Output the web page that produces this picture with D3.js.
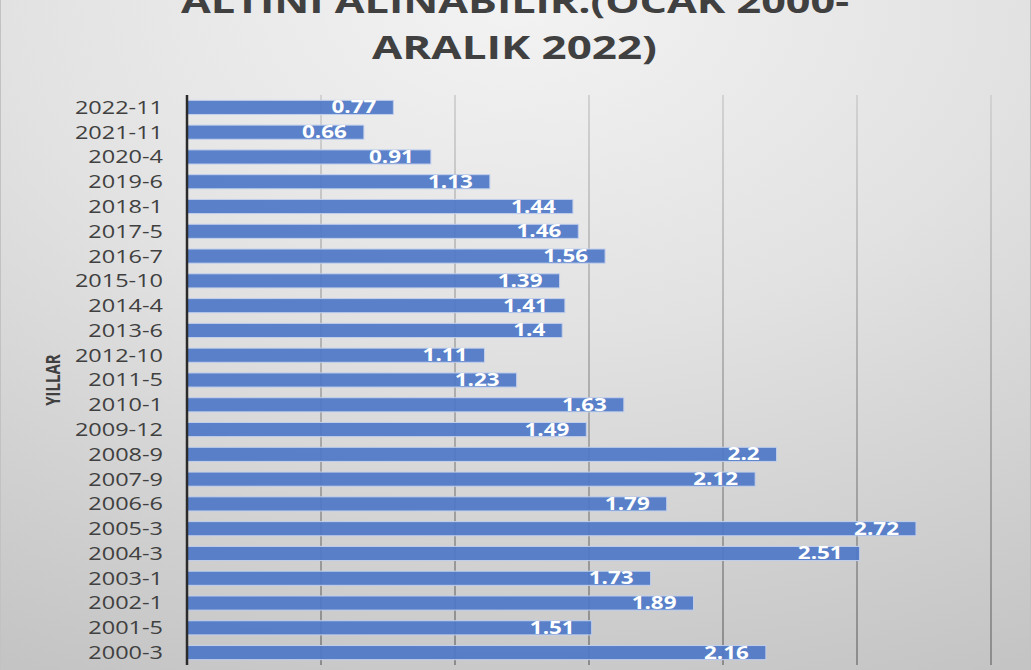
<!DOCTYPE html>
<html>
<head>
<meta charset="utf-8">
<script src="https://cdn.jsdelivr.net/npm/d3@7"></script>
<style>
	body { margin: 0; background: #fff; }
	svg { display: block; }
</style>
</head>
<body>
<div id="chart"></div>
<script>
var categories = ["2022-11", "2021-11", "2020-4", "2019-6", "2018-1", "2017-5", "2016-7", "2015-10",
	"2014-4", "2013-6", "2012-10", "2011-5", "2010-1", "2009-12", "2008-9", "2007-9", "2006-6",
	"2005-3", "2004-3", "2003-1", "2002-1", "2001-5", "2000-3"];

var values = [0.77, 0.66, 0.91, 1.13, 1.44, 1.46, 1.56, 1.39, 1.41, 1.4, 1.11, 1.23, 1.63, 1.49,
	2.2, 2.12, 1.79, 2.72, 2.51, 1.73, 1.89, 1.51, 2.16];

var xTicks = [0, 0.5, 1, 1.5, 2, 2.5, 3];

var titleLines = ["ALTINI ALINABİLİR.(OCAK 2000-", "ARALIK 2022)"];
var yTitle = "YILLAR";

var W = 1031,
	H = 670,
	stretch = 1.32; // the picture is wider than it is tall, text looks pulled sideways

var svg = d3.select("#chart").append("svg")
	.attr("width", W)
	.attr("height", H);

var defs = svg.append("defs");

var bg = defs.append("radialGradient")
	.attr("id", "bg")
	.attr("cx", "50%").attr("cy", "0%")
	.attr("r", "110%");
bg.append("stop").attr("offset", "0%").attr("stop-color", "#f3f3f3");
bg.append("stop").attr("offset", "45%").attr("stop-color", "#e2e2e2");
bg.append("stop").attr("offset", "100%").attr("stop-color", "#c4c4c4");

var gridGrad = defs.append("linearGradient")
	.attr("id", "gridGrad")
	.attr("gradientUnits", "userSpaceOnUse")
	.attr("x1", 0).attr("y1", 95).attr("x2", 0).attr("y2", 665);
gridGrad.append("stop").attr("offset", "0%").attr("stop-color", "#d2d2d2");
gridGrad.append("stop").attr("offset", "100%").attr("stop-color", "#8c8c8c");

svg.append("rect")
	.attr("x", 0.5).attr("y", -2)
	.attr("width", W - 1).attr("height", H + 4)
	.attr("fill", "url(#bg)")
	.attr("stroke", "#c2c2c2");

/* scales */

var x = d3.scaleLinear()
	.domain([0, 3])
	.range([187, 991]);

var y = d3.scaleBand()
	.domain(categories)
	.range([95, 665])
	.paddingInner(0.43)
	.paddingOuter(0.215);

/* grid */

svg.append("g")
	.selectAll("line")
	.data(xTicks.slice(1))
	.enter().append("line")
	.attr("x1", function(d) { return x(d); })
	.attr("x2", function(d) { return x(d); })
	.attr("y1", 95)
	.attr("y2", 665)
	.attr("stroke", "url(#gridGrad)")
	.attr("stroke-width", 2);

/* bars */

svg.append("g")
	.selectAll("rect")
	.data(values)
	.enter().append("rect")
	.attr("x", x(0))
	.attr("y", function(d, i) { return y(categories[i]); })
	.attr("width", function(d) { return x(d) - x(0); })
	.attr("height", y.bandwidth())
	.attr("fill", "#4f78c6")
	.attr("fill-opacity", 0.93)
	.attr("stroke", "#c3d0ec")
	.attr("stroke-width", 1);

/* value labels */

svg.append("g")
	.selectAll("text")
	.data(values)
	.enter().append("text")
	.attr("transform", function(d, i) {
		return "translate(" + (x(d) - 17) + "," + (y(categories[i]) + y.bandwidth() / 2 + 6) + ") scale(" + stretch + ",1)";
	})
	.attr("text-anchor", "end")
	.attr("font-family", "'Open Sans', sans-serif")
	.attr("font-weight", "bold")
	.attr("font-size", 17)
	.attr("fill", "#fff")
	.text(function(d) { return String(d); });

/* y axis */

var yAxis = svg.append("g")
	.attr("transform", "translate(" + x(0) + ",0)")
	.call(d3.axisLeft(y).tickSize(0).tickPadding(24));

yAxis.select(".domain")
	.attr("d", "M0,95V665")
	.attr("stroke", "#2b2b2b")
	.attr("stroke-width", 2.5);

yAxis.selectAll(".tick text")
	.attr("font-family", "'Open Sans', sans-serif")
	.attr("font-size", 17.8)
	.attr("fill", "#404040")
	.attr("dy", "0.36em")
	.attr("x", -24 / stretch)
	.attr("transform", "scale(" + stretch + ",1)");

/* axis title */

svg.append("text")
	.attr("transform", "translate(60,380) scale(" + stretch + ",1) rotate(-90)")
	.attr("text-anchor", "middle")
	.attr("font-family", "'Open Sans', sans-serif")
	.attr("font-weight", "bold")
	.attr("font-size", 15)
	.attr("fill", "#404040")
	.text(yTitle);

/* title, cut at the top edge as in the original */

var titleX = [181, 372],
	titleW = [668, 285],
	titleY = [13, 59];

svg.append("g")
	.selectAll("text")
	.data(titleLines)
	.enter().append("text")
	.attr("x", function(d, i) { return titleX[i]; })
	.attr("y", function(d, i) { return titleY[i]; })
	.attr("textLength", function(d, i) { return titleW[i]; })
	.attr("lengthAdjust", "spacingAndGlyphs")
	.attr("font-family", "'Open Sans', sans-serif")
	.attr("font-weight", "bold")
	.attr("font-size", 33)
	.attr("fill", "#404040")
	.text(function(d) { return d; });
</script>
</body>
</html>
